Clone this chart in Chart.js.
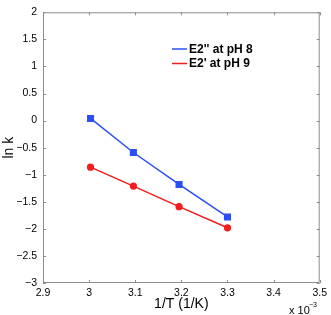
<!DOCTYPE html>
<html>
<head>
<meta charset="utf-8">
<script src="https://cdn.jsdelivr.net/npm/chart.js@4"></script>
<style>
  html, body { margin: 0; padding: 0; background: #fff; }
  canvas { display: block; }
</style>
</head>
<body>
<canvas id="chart" width="331" height="315"></canvas>
<script>
// inverse temperature, in units of 10^-3 1/K
const invT = [3.003, 3.096, 3.195, 3.300];

// ln k for each series
const lnkPH8 = [0.04, -0.59, -1.18, -1.78];
const lnkPH9 = [-0.86, -1.21, -1.59, -1.98];

const seriesLabels = ["E2'' at pH 8", "E2' at pH 9"];

const xTicks = [2.9, 3.0, 3.1, 3.2, 3.3, 3.4, 3.5];
const yTicks = [-3, -2.5, -2, -1.5, -1, -0.5, 0, 0.5, 1, 1.5, 2];

const BLUE = '#2a4ff5';
const RED = '#f51c1c';
const FONT = '"Liberation Sans", Arial, Helvetica, sans-serif';

function fmt(v) {
  const s = String(Number(v.toFixed(1)));
  return s.replace('-', '\u2212');
}

// box + inward ticks on all four sides, matlab style
const boxPlugin = {
  id: 'box',
  afterDraw(chart) {
    const { ctx, chartArea: a, scales } = chart;
    ctx.save();
    ctx.strokeStyle = '#8c8c8c';
    ctx.lineWidth = 1;
    ctx.beginPath();
    ctx.rect(a.left + 0.5, a.top + 0.5, a.right - a.left - 1, a.bottom - a.top - 1);
    ctx.stroke();
    const len = 3;
    ctx.beginPath();
    scales.x.ticks.forEach(t => {
      const px = Math.round(scales.x.getPixelForValue(t.value)) + 0.5;
      ctx.moveTo(px, a.bottom); ctx.lineTo(px, a.bottom - len);
      ctx.moveTo(px, a.top); ctx.lineTo(px, a.top + len);
    });
    scales.y.ticks.forEach(t => {
      const py = Math.round(scales.y.getPixelForValue(t.value)) + 0.5;
      ctx.moveTo(a.left, py); ctx.lineTo(a.left + len, py);
      ctx.moveTo(a.right, py); ctx.lineTo(a.right - len, py);
    });
    ctx.stroke();

    // exponent note under the x axis
    ctx.fillStyle = '#000';
    ctx.textBaseline = 'alphabetic';
    ctx.textAlign = 'left';
    ctx.font = '11px ' + FONT;
    ctx.fillText('x 10', 289, 314);
    ctx.font = '7px ' + FONT;
    ctx.fillText('\u22123', 309, 307);
    ctx.restore();
  }
};

// simple legend inside the plot
const legendPlugin = {
  id: 'innerLegend',
  afterDraw(chart) {
    const { ctx } = chart;
    ctx.save();
    chart.data.datasets.forEach((ds, i) => {
      const y = 49 + i * 14.5;
      ctx.strokeStyle = ds.borderColor;
      ctx.lineWidth = 1.5;
      ctx.beginPath();
      ctx.moveTo(172, y); ctx.lineTo(187, y);
      ctx.stroke();
      ctx.fillStyle = '#000';
      ctx.font = 'bold 12px ' + FONT;
      ctx.textBaseline = 'middle';
      ctx.textAlign = 'left';
      ctx.fillText(ds.label, 189, y + 0.5);
    });
    ctx.restore();
  }
};

new Chart(document.getElementById('chart'), {
  type: 'line',
  data: {
    datasets: [
      {
        label: seriesLabels[0],
        data: invT.map((x, i) => ({ x, y: lnkPH8[i] })),
        borderColor: BLUE,
        backgroundColor: BLUE,
        borderWidth: 1.5,
        pointStyle: 'rect',
        pointRadius: 5,
        pointBorderWidth: 0,
      },
      {
        label: seriesLabels[1],
        data: invT.map((x, i) => ({ x, y: lnkPH9[i] })),
        borderColor: RED,
        backgroundColor: RED,
        borderWidth: 1.5,
        pointStyle: 'circle',
        pointRadius: 3.6,
        pointBorderWidth: 0,
      }
    ]
  },
  options: {
    responsive: false,
    devicePixelRatio: 1,
    animation: false,
    layout: { padding: { top: 5, right: 9, left: 0, bottom: 0 } },
    plugins: {
      legend: { display: false },
      tooltip: { enabled: false }
    },
    scales: {
      x: {
        type: 'linear',
        min: 2.9,
        max: 3.5,
        afterBuildTicks: s => { s.ticks = xTicks.map(v => ({ value: v })); },
        afterFit: s => { s.height = 32; },
        grid: { display: false, drawTicks: false },
        border: { display: false },
        ticks: { color: '#000', padding: 4, font: { family: FONT, size: 10.5 }, callback: v => fmt(v), maxRotation: 0 },
        title: { display: true, text: '1/T (1/K)', color: '#000', font: { family: FONT, size: 14 }, padding: { top: 0, bottom: 2 } }
      },
      y: {
        min: -3,
        max: 2,
        afterBuildTicks: s => { s.ticks = yTicks.map(v => ({ value: v })); },
        afterFit: s => { s.width = 43; },
        grid: { display: false, drawTicks: false },
        border: { display: false },
        ticks: { color: '#000', padding: 6, font: { family: FONT, size: 10.5 }, callback: v => fmt(v) },
        title: { display: true, text: 'ln k', color: '#000', font: { family: FONT, size: 14 }, padding: { top: 1, bottom: 0 } }
      }
    }
  },
  plugins: [boxPlugin, legendPlugin]
});
</script>
</body>
</html>
